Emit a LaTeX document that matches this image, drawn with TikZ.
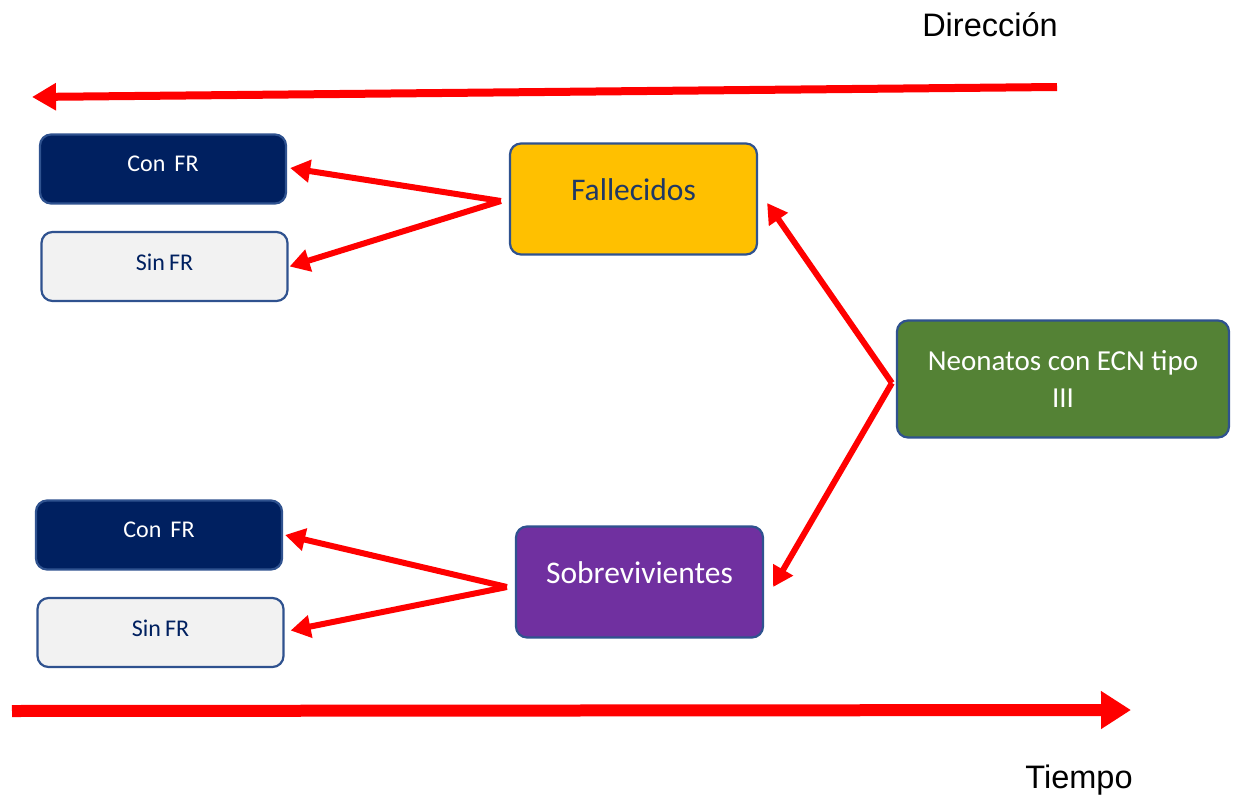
\documentclass[tikz,border=0pt]{standalone}
\usepackage{fontspec}
\setmainfont{Carlito}
\newfontfamily\arialf{Liberation Sans}
\usetikzlibrary{arrows.meta}
\definecolor{navy}{HTML}{002060}
\definecolor{boxline}{HTML}{2F528F}
\definecolor{lightgr}{HTML}{F2F2F2}
\definecolor{gold}{HTML}{FFC000}
\definecolor{leaf}{HTML}{548235}
\definecolor{violet}{HTML}{7030A0}
\definecolor{darktxt}{HTML}{1F3864}
\tikzset{
  box/.style={draw=boxline, line width=2.2pt, rounded corners=11pt, align=center, inner sep=0pt},
  small/.style={box, minimum width=246pt, minimum height=69pt, font=\fontsize{24}{28}\selectfont},
  big/.style={box, minimum width=247pt, minimum height=111pt, font=\fontsize{31.5}{36}\selectfont},
  conn/.style={draw=red, line width=6pt, -{Triangle[length=20pt, width=22pt]}},
  lbl/.style={font=\arialf\fontsize{32.5}{38}\selectfont, inner sep=0pt}
}
\begin{document}
\begin{tikzpicture}[x=1pt, y=-1pt]
\useasboundingbox (0,0) rectangle (1234,800);
\node[small, fill=navy, text=white] (c1) at (163,169) {\raisebox{10pt}{Con\hspace{0.15em} FR}};
\node[small, fill=lightgr, text=navy] (s1) at (164.5,266.5) {\raisebox{8pt}{Sin\hspace{-0.05em} FR}};
\node[small, fill=navy, text=white] (c2) at (159,535) {\raisebox{10pt}{Con\hspace{0.15em} FR}};
\node[small, fill=lightgr, text=navy] (s2) at (160.5,632.5) {\raisebox{8pt}{Sin\hspace{-0.05em} FR}};
\node[big, fill=gold, text=darktxt] (fal) at (633.5,199) {\raisebox{18pt}{Fallecidos}};
\node[big, fill=violet, text=white] (sob) at (639.5,582) {\raisebox{18pt}{Sobrevivientes}};
\node[box, fill=leaf, text=white, minimum width=332pt, minimum height=117pt, font=\fontsize{29}{37}\selectfont] (neo) at (1063,379) {Neonatos con ECN tipo\\III};
\node[lbl] (dir) at (990,25) {Dirección};
\node[lbl] (tie) at (1079,780) {Tiempo};
\coordinate (d1) at (1057,87);
\coordinate (d2) at (32,97);
\coordinate (t1) at (12,711);
\coordinate (t2) at (1131,710);
\draw[red, line width=8pt, -{Triangle[length=24pt, width=26pt]}] (d1) -- (d2);
\draw[red, line width=12pt, -{Triangle[length=30pt, width=36pt]}] (t1) -- (t2);
\draw[conn] ([shift={(-8pt,-2pt)}]fal.west) -- ([shift={(3pt,1pt)}]c1.east);
\draw[conn] ([shift={(-8pt,-2pt)}]fal.west) -- ([shift={(1pt,0pt)}]s1.east);
\draw[conn] ([shift={(-4pt,-4pt)}]neo.west) -- ([shift={(9pt,-4pt)}]fal.east);
\draw[conn] ([shift={(-4pt,-4pt)}]neo.west) -- ([shift={(9pt,-5pt)}]sob.east);
\draw[conn] ([shift={(-8pt,-5pt)}]sob.west) -- ([shift={(2pt,0pt)}]c2.east);
\draw[conn] ([shift={(-8pt,-5pt)}]sob.west) -- ([shift={(6pt,2pt)}]s2.east);
\end{tikzpicture}
\end{document}
